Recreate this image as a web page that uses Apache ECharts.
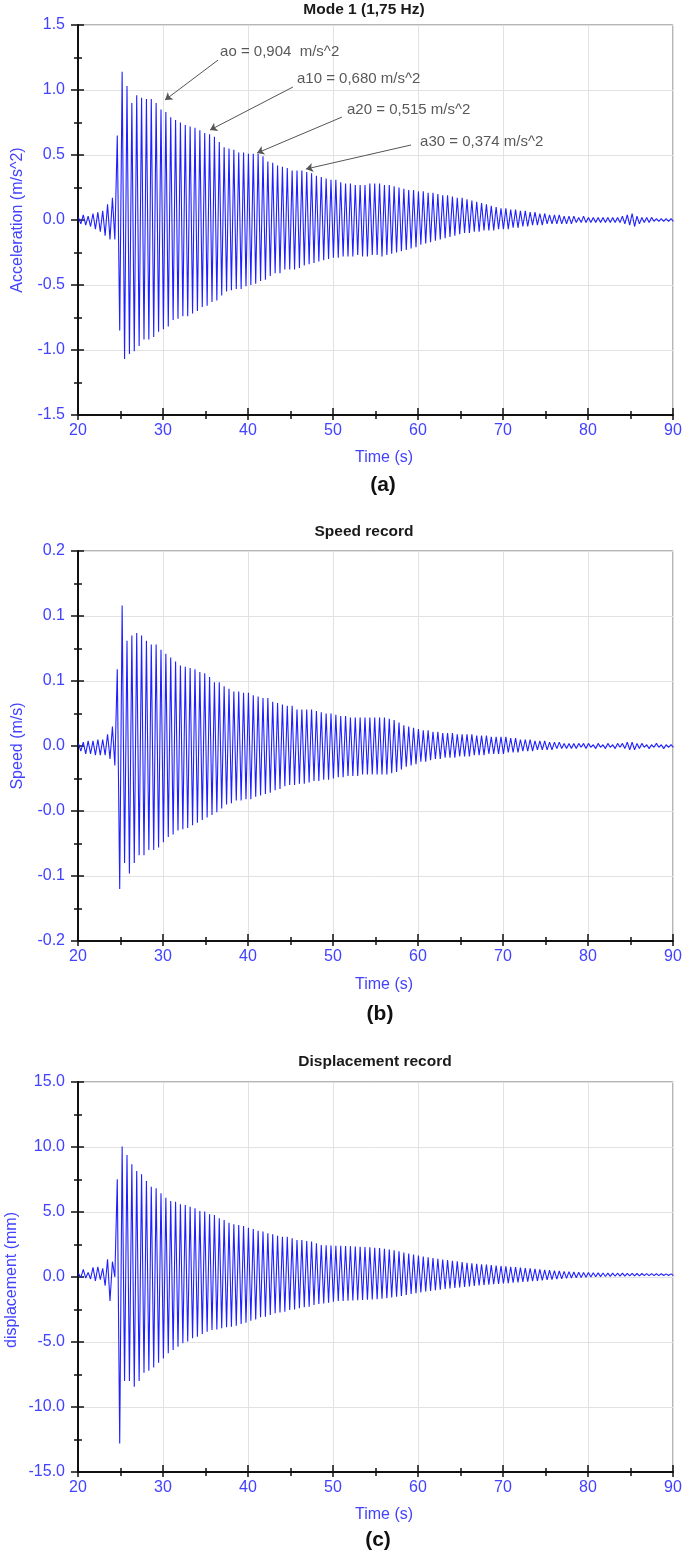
<!DOCTYPE html>
<html><head><meta charset="utf-8">
<script src="https://cdn.jsdelivr.net/npm/echarts@6/dist/echarts.min.js"></script>
<style>html,body{margin:0;padding:0;background:#fff}#chart{width:685px;height:1557px}</style>
</head><body><div id="chart"></div>
<script>
// ---- data (peak values per cycle, read from the record) ----
const modeFrequency = 1.75;   // Hz (from title)
const recordStart = 20.05;    // s, first sampled peak
const timeTicks = [20, 30, 40, 50, 60, 70, 80, 90];

const accelUpperPeaks = [
  0.02,0.04,0.03,0.05,0.06,0.07,0.12,0.17,
  0.65,1.14,1.03,0.90,0.96,0.94,0.93,0.93,0.90,0.85,
  0.83,0.79,0.77,0.75,0.73,0.72,0.71,0.69,0.67,0.66,
  0.64,0.60,0.56,0.55,0.54,0.52,0.52,0.51,0.51,0.51,
  0.49,0.45,0.44,0.42,0.41,0.40,0.38,0.38,0.38,0.37,
  0.36,0.34,0.33,0.32,0.31,0.31,
  0.29,0.28,0.28,0.27,0.27,0.27,0.28,0.28,0.28,0.27,
  0.27,0.26,0.25,0.24,0.23,0.23,0.22,0.22,0.21,0.21,
  0.20,0.19,0.19,0.18,0.17,0.17,0.16,0.15,0.14,0.13,
  0.12,0.11,0.10,0.09,0.09,0.08,0.08,0.07,0.07,0.06,
  0.06,0.05,0.05,0.04,0.04,0.04,0.03,0.03,0.03,0.02,
  0.03,0.02,0.02,0.02,0.02,0.02,0.02,0.02,0.03,0.04,
  0.05,0.03,0.02,0.02,0.02,0.01,0.01,0.01,0.01
];
const accelLowerPeaks = [
  -0.03,-0.04,-0.05,-0.07,-0.09,-0.12,-0.15,-0.15,
  -0.85,-1.07,-1.03,-1.01,-0.97,-0.92,-0.92,-0.90,-0.86,-0.84,
  -0.82,-0.77,-0.76,-0.74,-0.74,-0.72,-0.70,-0.67,-0.66,-0.63,
  -0.62,-0.58,-0.55,-0.54,-0.53,-0.53,-0.51,-0.50,-0.49,-0.47,
  -0.46,-0.43,-0.41,-0.41,-0.38,-0.38,-0.38,-0.37,-0.35,-0.34,
  -0.33,-0.32,-0.31,-0.30,-0.29,-0.29,
  -0.28,-0.28,-0.28,-0.27,-0.28,-0.28,-0.27,-0.27,-0.28,-0.27,
  -0.26,-0.25,-0.24,-0.23,-0.22,-0.21,-0.19,-0.18,-0.17,-0.16,
  -0.15,-0.14,-0.13,-0.12,-0.11,-0.10,-0.10,-0.09,-0.09,-0.08,
  -0.08,-0.08,-0.07,-0.07,-0.07,-0.06,-0.06,-0.05,-0.05,-0.04,
  -0.04,-0.04,-0.03,-0.03,-0.03,-0.03,-0.03,-0.03,-0.02,-0.02,
  -0.02,-0.02,-0.02,-0.02,-0.02,-0.02,-0.02,-0.02,-0.03,-0.04,
  -0.05,-0.03,-0.02,-0.02,-0.01,-0.01,-0.01,-0.01,-0.01
];
const speedUpperPeaks = [
  0.002,0.003,0.004,0.004,0.005,0.005,0.009,0.015,
  0.059,0.108,0.081,0.085,0.087,0.085,0.081,0.078,0.078,0.074,
  0.071,0.068,0.065,0.062,0.061,0.060,0.059,0.057,0.056,0.053,
  0.049,0.049,0.046,0.044,0.042,0.042,0.041,0.041,0.039,0.038,
  0.037,0.037,0.034,0.033,0.032,0.031,0.031,0.028,0.028,0.028,
  0.028,0.027,0.026,0.025,0.025,0.024,
  0.023,0.023,0.022,0.022,0.022,0.022,0.022,0.022,0.022,0.022,
  0.021,0.020,0.018,0.016,0.015,0.014,0.013,0.012,0.012,0.011,
  0.011,0.010,0.010,0.010,0.009,0.009,0.009,0.009,0.008,0.008,
  0.008,0.007,0.007,0.007,0.007,0.006,0.006,0.005,0.005,0.005,
  0.004,0.004,0.004,0.003,0.003,0.003,0.002,0.002,0.002,0.002,
  0.002,0.002,0.001,0.002,0.001,0.002,0.001,0.002,0.002,0.003,
  0.003,0.002,0.002,0.001,0.001,0.002,0.001,0.001,0.001
];
const speedLowerPeaks = [
  -0.004,-0.006,-0.006,-0.007,-0.007,-0.007,-0.010,-0.015,
  -0.110,-0.090,-0.098,-0.090,-0.084,-0.084,-0.080,-0.080,-0.078,-0.074,
  -0.070,-0.068,-0.065,-0.064,-0.063,-0.061,-0.059,-0.057,-0.055,-0.053,
  -0.051,-0.048,-0.045,-0.044,-0.042,-0.042,-0.041,-0.041,-0.039,-0.038,
  -0.037,-0.036,-0.034,-0.033,-0.031,-0.030,-0.030,-0.029,-0.029,-0.028,
  -0.027,-0.027,-0.026,-0.026,-0.025,-0.024,
  -0.024,-0.023,-0.023,-0.023,-0.022,-0.022,-0.022,-0.022,-0.022,-0.022,
  -0.021,-0.020,-0.018,-0.016,-0.015,-0.014,-0.012,-0.012,-0.011,-0.010,
  -0.010,-0.009,-0.009,-0.009,-0.008,-0.008,-0.008,-0.007,-0.007,-0.007,
  -0.006,-0.006,-0.006,-0.006,-0.005,-0.005,-0.005,-0.004,-0.004,-0.004,
  -0.003,-0.003,-0.003,-0.003,-0.002,-0.002,-0.002,-0.002,-0.002,-0.001,
  -0.002,-0.001,-0.002,-0.001,-0.002,-0.001,-0.002,-0.001,-0.002,-0.003,
  -0.003,-0.002,-0.001,-0.002,-0.001,-0.001,-0.002,-0.001,-0.001
];
const dispUpperPeaks = [
  0.28,0.59,0.35,0.74,0.79,0.67,1.36,1.18,
  7.51,10.03,9.38,8.67,8.15,7.90,7.38,6.95,6.82,6.44,
  6.10,5.85,5.79,5.59,5.54,5.41,5.28,5.08,5.03,4.82,
  4.77,4.51,4.38,4.18,4.05,4.00,3.92,3.79,3.69,3.56,
  3.49,3.36,3.28,3.18,3.10,3.10,2.97,2.85,2.85,2.77,
  2.72,2.59,2.46,2.44,2.42,2.40,
  2.40,2.38,2.36,2.34,2.32,2.30,2.28,2.25,2.22,2.18,
  2.12,2.05,1.97,1.88,1.80,1.72,1.65,1.58,1.52,1.46,
  1.40,1.35,1.30,1.25,1.20,1.15,1.10,1.06,1.02,0.98,
  0.95,0.91,0.88,0.85,0.82,0.79,0.76,0.72,0.69,0.66,
  0.62,0.58,0.55,0.52,0.49,0.46,0.43,0.41,0.39,0.37,
  0.35,0.34,0.33,0.32,0.31,0.30,0.30,0.29,0.29,0.28,
  0.28,0.27,0.27,0.26,0.26,0.25,0.25,0.24,0.24
];
const dispLowerPeaks = [
  -0.05,-0.08,-0.15,-0.30,-0.20,-0.67,-1.85,0.00,
  -12.8,-8.00,-8.00,-8.44,-8.00,-7.36,-7.21,-6.97,-6.59,-6.26,
  -5.87,-5.62,-5.36,-5.10,-4.97,-4.72,-4.59,-4.38,-4.21,-4.08,
  -4.03,-3.95,-3.87,-3.82,-3.74,-3.62,-3.51,-3.36,-3.26,-3.10,
  -3.05,-2.92,-2.79,-2.72,-2.67,-2.54,-2.49,-2.41,-2.33,-2.28,
  -2.15,-2.08,-2.03,-1.97,-1.90,-1.85,
  -1.85,-1.83,-1.81,-1.79,-1.77,-1.75,-1.73,-1.70,-1.67,-1.63,
  -1.58,-1.52,-1.45,-1.38,-1.31,-1.24,-1.18,-1.12,-1.07,-1.02,
  -0.97,-0.92,-0.88,-0.84,-0.80,-0.76,-0.72,-0.68,-0.65,-0.62,
  -0.59,-0.56,-0.53,-0.50,-0.47,-0.44,-0.41,-0.38,-0.35,-0.32,
  -0.29,-0.26,-0.23,-0.20,-0.17,-0.14,-0.11,-0.08,-0.06,-0.04,
  -0.02,0.00,0.02,0.03,0.04,0.05,0.06,0.07,0.07,0.08,
  0.08,0.09,0.10,0.10,0.11,0.11,0.12,0.12,0.12
];

const speedTickLabels = ['-0.2','-0.1','-0.0','0.0','0.1','0.1','0.2'];

const annotationTexts = ['ao = 0,904  m/s^2','a10 = 0,680 m/s^2','a20 = 0,515 m/s^2','a30 = 0,374 m/s^2'];
const annotationTextPos = [[36.71,1.295],[45.76,1.085],[51.65,0.846],[60.24,0.602]];
const annotationArrowFrom = [[36.47,1.23],[45.29,1.023],[51.06,0.792],[59.18,0.577]];
const annotationArrowTo = [[30.24,0.923],[35.53,0.692],[41.06,0.515],[46.82,0.392]];

// ---- build ----
function zigzag(up, lo) {
  const pts = [];
  for (let k = 0; k < up.length; k++) {
    pts.push([recordStart + k / modeFrequency, up[k]]);
    pts.push([recordStart + (k + 0.5) / modeFrequency, lo[k]]);
  }
  return pts;
}

const BLUE_TXT = '#4242ff';
const LINE_BLUE = '#2020ff';
const FONT = '"Liberation Sans", Arial, sans-serif';
const gridTops = [25, 551, 1082];

const grids = gridTops.map(t => ({left:78, top:t, width:595, height:390, show:true, borderColor:'#6a6a6a', borderWidth:1, backgroundColor:'transparent', containLabel:false}));

const xAxes = [], yAxes = [];
const yDefs = [
  {min:-1.5, max:1.5, interval:0.5, fmt:v => v.toFixed(1)},
  {min:-0.15, max:0.15, interval:0.05, fmt:v => speedTickLabels[Math.round((v + 0.15) / 0.05)]},
  {min:-15, max:15, interval:5, fmt:v => v.toFixed(1)}
];
for (let g = 0; g < 3; g++) {
  xAxes.push({gridIndex:g, type:'value', position:'bottom', min:timeTicks[0], max:timeTicks[timeTicks.length-1], interval:10,
    axisLine:{show:true, onZero:false, lineStyle:{color:'#111', width:2}},
    axisTick:{show:true, inside:false, length:5, lineStyle:{color:'#111', width:1.5}},
    minorTick:{show:true, splitNumber:2, length:4, lineStyle:{color:'#111', width:1.5}},
    axisLabel:{color:BLUE_TXT, fontSize:16, fontFamily:FONT, margin:8},
    splitLine:{show:true, lineStyle:{color:'#e2e2e2', width:1}}});
  xAxes.push({gridIndex:g, type:'value', position:'bottom', min:timeTicks[0], max:timeTicks[timeTicks.length-1], interval:10,
    axisLine:{show:false, onZero:false},
    axisTick:{show:true, inside:true, length:7, lineStyle:{color:'#111', width:1.5}},
    minorTick:{show:true, splitNumber:2, length:4, lineStyle:{color:'#111', width:1.5}},
    axisLabel:{show:false}, splitLine:{show:false}});
  const d = yDefs[g];
  yAxes.push({gridIndex:g, type:'value', position:'left', min:d.min, max:d.max, interval:d.interval,
    axisLine:{show:true, onZero:false, lineStyle:{color:'#111', width:2}},
    axisTick:{show:true, inside:false, length:7, lineStyle:{color:'#111', width:1.5}},
    minorTick:{show:true, splitNumber:2, length:4, lineStyle:{color:'#111', width:1.5}},
    axisLabel:{color:BLUE_TXT, fontSize:16, fontFamily:FONT, margin:13, formatter:d.fmt},
    splitLine:{show:true, lineStyle:{color:'#e2e2e2', width:1}}});
  yAxes.push({gridIndex:g, type:'value', position:'left', min:d.min, max:d.max, interval:d.interval,
    axisLine:{show:false, onZero:false},
    axisTick:{show:true, inside:true, length:6, lineStyle:{color:'#111', width:1.5}},
    minorTick:{show:true, splitNumber:2, length:4, lineStyle:{color:'#111', width:1.5}},
    axisLabel:{show:false}, splitLine:{show:false}});
}

const sigStyle = {color:LINE_BLUE, width:1.1};
const series = [
  {type:'line', xAxisIndex:0, yAxisIndex:0, data:zigzag(accelUpperPeaks, accelLowerPeaks), symbol:'none', lineStyle:sigStyle, silent:true, z:3,
   markLine:{silent:true, symbol:['none','arrow'], symbolSize:7, animation:false,
     lineStyle:{color:'#555', width:1, type:'solid'}, label:{show:false},
     data: annotationArrowFrom.map((p,i) => [{coord:p}, {coord:annotationArrowTo[i]}])}},
  {type:'scatter', xAxisIndex:0, yAxisIndex:0, data:annotationTextPos, symbolSize:0, silent:true, z:5,
   label:{show:true, position:'right', distance:0, color:'#2e2e2e', fontSize:15, fontFamily:FONT,
     formatter:p => annotationTexts[p.dataIndex]}},
  {type:'line', xAxisIndex:2, yAxisIndex:2, data:zigzag(speedUpperPeaks, speedLowerPeaks), symbol:'none', lineStyle:sigStyle, silent:true, z:3},
  {type:'line', xAxisIndex:4, yAxisIndex:4, data:zigzag(dispUpperPeaks, dispLowerPeaks), symbol:'none', lineStyle:sigStyle, silent:true, z:3}
];

function txt(x, y, text, font, fill, rot) {
  return {type:'text', x:x, y:y, rotation:rot||0, silent:true,
    style:{text:text, font:font, fill:fill, align:'center', verticalAlign:'middle'}};
}
const titleFont = 'bold 15.5px ' + FONT;
const nameFont = '16px ' + FONT;
const capFont = 'bold 21px ' + FONT;
const graphic = [
  txt(364, 10, 'Mode 1 (1,75 Hz)', titleFont, '#1a1a1a'),
  txt(364, 532, 'Speed record', titleFont, '#1a1a1a'),
  txt(375, 1062, 'Displacement record', titleFont, '#1a1a1a'),
  txt(18, 220, 'Acceleration (m/s^2)', nameFont, BLUE_TXT, Math.PI/2),
  txt(18, 746, 'Speed (m/s)', nameFont, BLUE_TXT, Math.PI/2),
  txt(12, 1280, 'displacement (mm)', nameFont, BLUE_TXT, Math.PI/2),
  txt(384, 458, 'Time (s)', nameFont, BLUE_TXT),
  txt(384, 985, 'Time (s)', nameFont, BLUE_TXT),
  txt(384, 1515, 'Time (s)', nameFont, BLUE_TXT),
  txt(383, 485, '(a)', capFont, '#111'),
  txt(380, 1014, '(b)', capFont, '#111'),
  txt(378, 1540, '(c)', capFont, '#111')
];

const chart = echarts.init(document.getElementById('chart'), null, {renderer:'canvas'});
chart.setOption({
  animation:false,
  backgroundColor:'#fff',
  grid:grids, xAxis:xAxes, yAxis:yAxes, series:series, graphic:graphic
});
</script></body></html>
